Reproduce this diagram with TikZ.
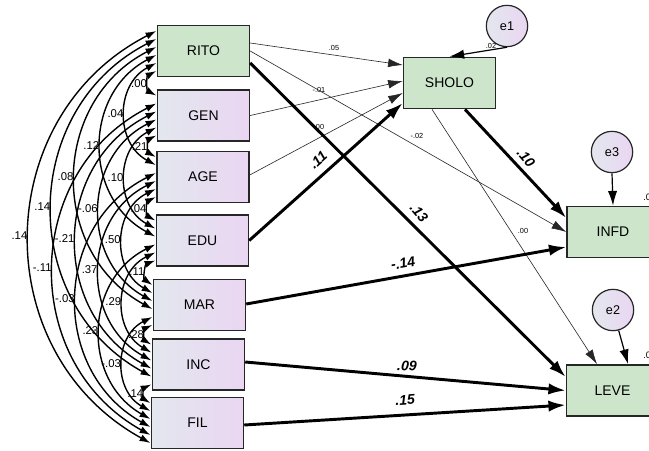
\documentclass[tikz,border=0pt]{standalone}
\usepackage{fontspec}
\setmainfont{Liberation Sans}
\usetikzlibrary{arrows.meta,calc}
\definecolor{latgreen}{HTML}{CCE5CB}
\definecolor{obsleft}{HTML}{E3E7EE}
\definecolor{obsright}{HTML}{EAD6F2}
\definecolor{ink}{HTML}{262626}
\begin{document}
\begin{tikzpicture}[x=0.75pt,y=0.75pt,
  box/.style={rectangle,draw=ink,line width=1.1pt,minimum width=69pt,minimum height=38.5pt,inner sep=0pt,font=\fontsize{10.5}{12}\selectfont},
  endo/.style={box,fill=latgreen},
  exo/.style={box,left color=obsleft,right color=obsright},
  errc/.style={circle,draw=ink,line width=0.9pt,minimum size=31pt,inner sep=0pt,left color=obsleft,right color=obsright,font=\fontsize{9.5}{11}\selectfont},
  cov/.style={line width=1.05pt,{Latex[length=8pt,width=5.4pt]}-{Latex[length=8pt,width=5.4pt]}},
  covlbl/.style={midway,anchor=east,inner sep=1pt,font=\fontsize{8.5}{10}\selectfont},
  thinarr/.style={draw=ink,line width=0.45pt,-{Latex[length=11pt,width=6.5pt]}},
  thickarr/.style={draw=black,line width=2.2pt,-{Latex[length=13pt,width=8.5pt]}},
  errarr/.style={draw=black,line width=0.9pt,-{Latex[length=11pt,width=7pt]}},
  small/.style={inner sep=0pt,font=\fontsize{5.5}{6}\selectfont},
  coef/.style={inner sep=0pt,font=\bfseries\itshape\fontsize{10.5}{12}\selectfont},
]
\fill[white] (0,0) rectangle (649,-450);
\useasboundingbox (0,0) rectangle (649,-450);

% observed variables
\node[endo] (RITO) at (203.5,-51) {RITO};
\node[exo]  (GEN)  at (203.5,-115.5) {GEN};
\node[exo]  (AGE)  at (203,-177) {AGE};
\node[exo]  (EDU)  at (202.5,-240.5) {EDU};
\node[exo]  (MAR)  at (199.5,-305) {MAR};
\node[exo]  (INC)  at (198.5,-364.5) {INC};
\node[exo]  (FIL)  at (197.5,-423) {FIL};
\node[endo] (SHOLO) at (449.5,-83) {SHOLO};
\node[endo] (INFD) at (613,-232) {INFD};
\node[endo] (LEVE) at (612.5,-390.5) {LEVE};

% error terms
\node[errc] (e1) at (507,-26) {e1};
\node[errc] (e3) at (612,-152) {e3};
\node[errc] (e2) at (613,-310) {e2};

% covariances between the exogenous variables
\foreach \a/\b/\d/\lab in {
  RITO/GEN/1/.00, GEN/AGE/1/.21, AGE/EDU/1/.04, EDU/MAR/1/.11, MAR/INC/1/.28, INC/FIL/1/.14,
  RITO/AGE/2/.04, GEN/EDU/2/.10, AGE/MAR/2/.50, EDU/INC/2/.29, MAR/FIL/2/-.03,
  RITO/EDU/3/.12, GEN/MAR/3/-.06, AGE/INC/3/.37, EDU/FIL/3/.23,
  RITO/MAR/4/.08, GEN/INC/4/-.21, AGE/FIL/4/-.03,
  RITO/INC/5/.14, GEN/FIL/5/-.11,
  RITO/FIL/6/.14}{
  \draw[cov] ($(\a.west)+(-0.5,{8*\d-28})$) to[bend right=62,looseness=1.16]
    node[covlbl] (c-\a-\b) {\lab} ($(\b.west)+(-0.5,{28-8*\d})$);
}

% regression paths
\draw[thinarr] ($(RITO.east)+(0,8)$) -- ($(SHOLO.west)+(0,18)$);
\draw[thinarr] (RITO.east) -- (INFD.west);
\draw[thinarr] (GEN.east) -- ($(SHOLO.west)+(0,2)$);
\draw[thinarr] ($(AGE.east)+(0,2)$) -- ($(SHOLO.west)+(0,-10)$);
\draw[thickarr] (EDU.east) -- ($(SHOLO.west)+(0,-20)$);
\draw[thickarr] ($(RITO.east)+(0,-12)$) -- ($(LEVE.west)+(0,13.5)$);
\draw[thickarr] ($(SHOLO.south)+(15.5,0)$) -- ($(INFD.west)+(0,14)$);
\draw[thinarr] ($(SHOLO.south)+(-17.5,0)$) -- ($(LEVE.north)+(-15.5,0)$);
\draw[thickarr] ($(MAR.east)+(0,1)$) -- ($(INFD.west)+(0,-15)$);
\draw[thickarr] ($(INC.east)+(0,2.5)$) -- (LEVE.west);
\draw[thickarr] ($(FIL.east)+(0,-2)$) -- ($(LEVE.west)+(0,-14.5)$);
\draw[errarr] (e1.south) -- (SHOLO.north);
\draw[errarr] (e3.south) -- (INFD.north);
\draw[errarr] (e2) -- ($(LEVE.north)+(15.5,0)$);

% path coefficients
\node[small] (k-rs) at (334,-48) {.05};
\node[small] (k-gs) at (319,-90) {-.01};
\node[small] (k-as) at (319,-127) {.00};
\node[small] (k-ri) at (417,-136) {-.02};
\node[small] (k-sl) at (523,-231) {.00};
\node[small] (k-e1) at (491,-46) {.02};
\node[small,anchor=west,font=\fontsize{7}{8}\selectfont] (k-e3) at (643,-197) {.0};
\node[small,anchor=west,font=\fontsize{7}{8}\selectfont] (k-e2) at (643,-355) {.0};
\node[coef,rotate=42] (k-es) at (318,-160) {.11};
\node[coef,rotate=-50] (k-rl) at (419,-213) {.13};
\node[coef,rotate=-50] (k-si) at (526,-158) {.10};
\node[coef,rotate=10] (k-mi) at (403,-263) {-.14};
\node[coef,rotate=-4] (k-il) at (407,-366) {.09};
\node[coef,rotate=4] (k-fl) at (405,-400) {.15};
\end{tikzpicture}
\end{document}
